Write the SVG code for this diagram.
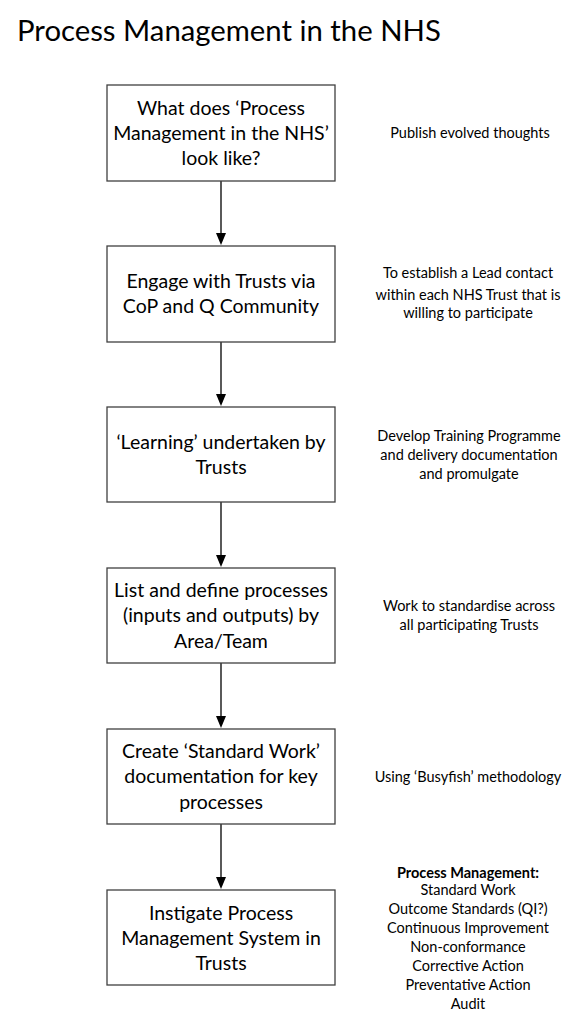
<svg xmlns="http://www.w3.org/2000/svg" width="576" height="1023" viewBox="0 0 576 1023">
<style>
.box{fill:#fff;stroke:#404040;stroke-width:1.3}
.bt{font-family:Lato,"Open Sans",sans-serif;font-size:19.5px;fill:#000;text-anchor:middle}
.st{font-family:Lato,"Open Sans",sans-serif;font-size:14.5px;fill:#000;text-anchor:middle}
.ln{stroke:#000;stroke-width:1.3}
.ah{fill:#000}
</style>
<rect width="576" height="1023" fill="#fff"/>
<text x="17" y="41" font-family="Lato,'Open Sans',sans-serif" font-size="29.3px" fill="#000">Process Management in the NHS</text>
<g id="connectors">
<line class="ln" x1="221" y1="181" x2="221" y2="234"/>
<path class="ah" d="M216,233 L226,233 L221,245 Z"/>
<line class="ln" x1="221" y1="342" x2="221" y2="395"/>
<path class="ah" d="M216,394 L226,394 L221,406 Z"/>
<line class="ln" x1="221" y1="502" x2="221" y2="556"/>
<path class="ah" d="M216,555 L226,555 L221,567 Z"/>
<line class="ln" x1="221" y1="663" x2="221" y2="717"/>
<path class="ah" d="M216,716 L226,716 L221,728 Z"/>
<line class="ln" x1="221" y1="824" x2="221" y2="878"/>
<path class="ah" d="M216,877 L226,877 L221,889 Z"/>
</g>
<g id="n1">
<rect class="box" x="107" y="85" width="228" height="96"/>
<text class="bt" x="221" y="115">What does ‘Process</text>
<text class="bt" x="221" y="140">Management in the NHS’</text>
<text class="bt" x="221" y="165">look like?</text>
</g>
<g id="n2">
<rect class="box" x="107" y="246" width="228" height="96"/>
<text class="bt" x="221" y="288">Engage with Trusts via</text>
<text class="bt" x="221" y="313">CoP and Q Community</text>
</g>
<g id="n3">
<rect class="box" x="107" y="407" width="228" height="95"/>
<text class="bt" x="221" y="449">‘Learning’ undertaken by</text>
<text class="bt" x="221" y="474">Trusts</text>
</g>
<g id="n4">
<rect class="box" x="107" y="568" width="228" height="95"/>
<text class="bt" x="221" y="597">List and define processes</text>
<text class="bt" x="221" y="622">(inputs and outputs) by</text>
<text class="bt" x="221" y="648">Area/Team</text>
</g>
<g id="n5">
<rect class="box" x="107" y="729" width="228" height="95"/>
<text class="bt" x="221" y="758">Create ‘Standard Work’</text>
<text class="bt" x="221" y="783">documentation for key</text>
<text class="bt" x="221" y="809">processes</text>
</g>
<g id="n6">
<rect class="box" x="107" y="890" width="228" height="95"/>
<text class="bt" x="221" y="920">Instigate Process</text>
<text class="bt" x="221" y="945">Management System in</text>
<text class="bt" x="221" y="970">Trusts</text>
</g>
<g id="notes">
<text class="st" x="470" y="138">Publish evolved thoughts</text>
<text class="st" x="468" y="278">To establish a Lead contact</text>
<text class="st" x="468" y="300">within each NHS Trust that is</text>
<text class="st" x="468" y="318">willing to participate</text>
<text class="st" x="469" y="441">Develop Training Programme</text>
<text class="st" x="469" y="460">and delivery documentation</text>
<text class="st" x="469" y="479">and promulgate</text>
<text class="st" x="469" y="611">Work to standardise across</text>
<text class="st" x="469" y="630">all participating Trusts</text>
<text class="st" x="468" y="782">Using ‘Busyfish’ methodology</text>
<text class="st" x="468" y="878" font-weight="bold">Process Management:</text>
<text class="st" x="468" y="895">Standard Work</text>
<text class="st" x="468" y="914">Outcome Standards (QI?)</text>
<text class="st" x="468" y="933">Continuous Improvement</text>
<text class="st" x="468" y="952">Non-conformance</text>
<text class="st" x="468" y="971">Corrective Action</text>
<text class="st" x="468" y="990">Preventative Action</text>
<text class="st" x="468" y="1009">Audit</text>
</g>
</svg>
